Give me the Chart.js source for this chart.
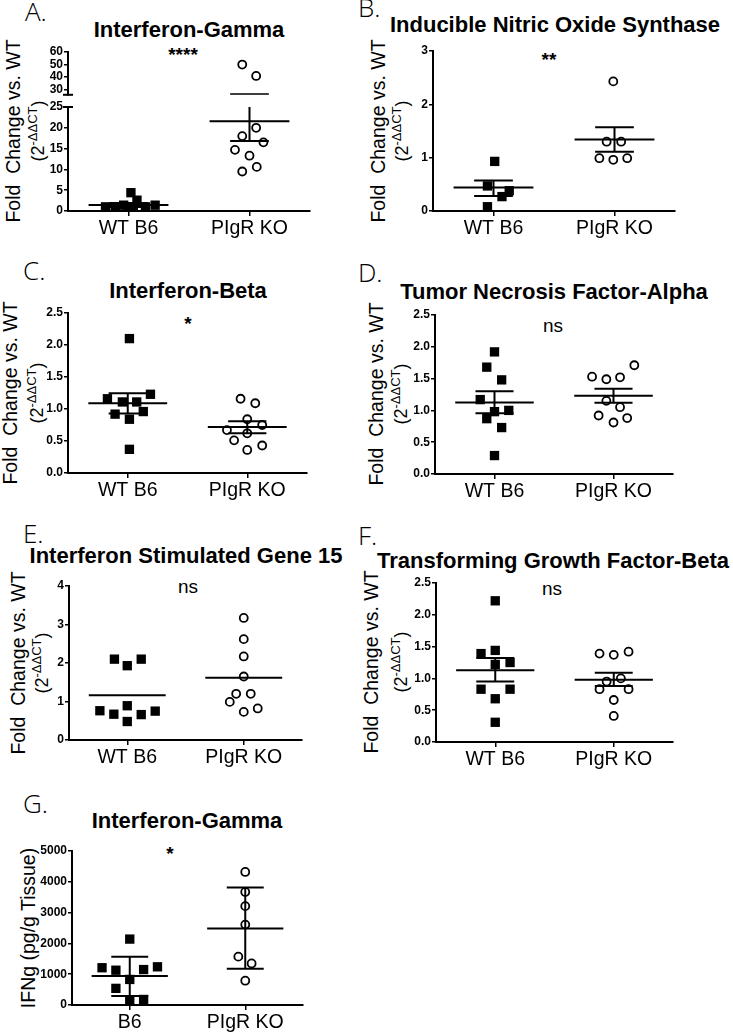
<!DOCTYPE html>
<html>
<head>
<meta charset="utf-8">
<script src="https://cdn.jsdelivr.net/npm/chart.js@4.4.1/dist/chart.umd.min.js"></script>
<style>
  body { margin: 0; background: #fff; width: 733px; height: 1033px; position: relative; overflow: hidden;
         font-family: "Liberation Sans", Arial, sans-serif; color: #000; }
  canvas { position: absolute; }
  .letra { position: absolute; font-family: "Open Sans", sans-serif; font-weight: 300; font-size: 26px; line-height: 1; }
  .titulo { position: absolute; font-weight: bold; font-size: 22px; line-height: 1; white-space: nowrap; transform: translateX(-50%); }
  .ytit { position: absolute; white-space: nowrap; line-height: 1; transform: translate(-50%, -50%) rotate(-90deg); }
  .ytit .sup { font-size: 13px; position: relative; top: -7px; }
  .sig { position: absolute; line-height: 1; white-space: nowrap; transform: translateX(-50%); }
  .ast { font-size: 19px; font-weight: bold; }
  .ns { font-size: 19px; }
</style>
</head>
<body>

<div class="letra" style="left:25px;top:-2px">A.</div>
<div class="titulo" style="left:189px;top:19px">Interferon-Gamma</div>
<div class="ytit" style="left:14px;top:131px;font-size:19.5px">Fold&nbsp; Change vs. WT</div>
<div class="ytit" style="left:38px;top:131px;font-size:18px">(2<span class="sup">-ΔΔCT</span>)</div>
<div class="sig ast" style="left:183px;top:45px">****</div>

<div class="letra" style="left:358px;top:-6px">B.</div>
<div class="titulo" style="left:555px;top:14px">Inducible Nitric Oxide Synthase</div>
<div class="ytit" style="left:379px;top:131px;font-size:19.5px">Fold&nbsp; Change vs. WT</div>
<div class="ytit" style="left:402px;top:131px;font-size:18px">(2<span class="sup">-ΔΔCT</span>)</div>
<div class="sig ast" style="left:549px;top:50px">**</div>

<div class="letra" style="left:23px;top:257px">C.</div>
<div class="titulo" style="left:188px;top:280px">Interferon-Beta</div>
<div class="ytit" style="left:11px;top:393px;font-size:19.5px">Fold&nbsp; Change vs. WT</div>
<div class="ytit" style="left:37px;top:393px;font-size:18px">(2<span class="sup">-ΔΔCT</span>)</div>
<div class="sig ast" style="left:188px;top:314px">*</div>

<div class="letra" style="left:358px;top:259px">D.</div>
<div class="titulo" style="left:554px;top:281px">Tumor Necrosis Factor-Alpha</div>
<div class="ytit" style="left:377px;top:394px;font-size:19.5px">Fold&nbsp; Change vs. WT</div>
<div class="ytit" style="left:401px;top:394px;font-size:18px">(2<span class="sup">-ΔΔCT</span>)</div>
<div class="sig ns" style="left:553px;top:316px">ns</div>

<div class="letra" style="left:23px;top:520px">E.</div>
<div class="titulo" style="left:186px;top:545px">Interferon Stimulated Gene 15</div>
<div class="ytit" style="left:19px;top:663px;font-size:19.5px">Fold&nbsp; Change vs. WT</div>
<div class="ytit" style="left:42px;top:663px;font-size:18px">(2<span class="sup">-ΔΔCT</span>)</div>
<div class="sig ns" style="left:188px;top:577px">ns</div>

<div class="letra" style="left:358px;top:522px">F.</div>
<div class="titulo" style="left:553px;top:550px">Transforming Growth Factor-Beta</div>
<div class="ytit" style="left:372px;top:662px;font-size:19.5px">Fold&nbsp; Change vs. WT</div>
<div class="ytit" style="left:401px;top:662px;font-size:18px">(2<span class="sup">-ΔΔCT</span>)</div>
<div class="sig ns" style="left:552px;top:579px">ns</div>

<div class="letra" style="left:23px;top:790px">G.</div>
<div class="titulo" style="left:187px;top:810px">Interferon-Gamma</div>
<div class="ytit" style="left:29px;top:928px;font-size:19.5px">IFNg (pg/g Tissue)</div>
<div class="sig ast" style="left:170px;top:844px">*</div>

<script>
// Grupos
const groups = ['WT B6', 'PIgR KO'];
const groupsG = ['B6', 'PIgR KO'];

// A. Interferon-Gamma (fold change)
const ifngWt = [1.0, 0.6, 1.4, 0.2, 4.4, 2.6, 0.4, 1.0, 1.4];
const ifngWtJitter = [-0.19, -0.11, -0.04, -0.01, 0.02, 0.07, 0.04, 0.14, 0.22];
const ifngKo = [50, 41, 20, 18, 16.5, 14.7, 13.3, 10.6, 9.5];
const ifngKoJitter = [-0.06, 0.055, 0.055, -0.06, 0.115, -0.12, 0, 0.06, -0.06];
const ifngMean = [1.44, 21.6];
const ifngLow = [0.98, 16.8];
const ifngHigh = [1.9, 26.5];
const ifngTicksLow = [0, 5, 10, 15, 20, 25];
const ifngTicksHigh = [30, 40, 50, 60];

// B. Inducible Nitric Oxide Synthase
const inosWt = [0.93, 0.47, 0.38, 0.27, 0.08];
const inosWtJitter = [0.01, -0.05, 0.13, 0.07, -0.05];
const inosKo = [2.43, 1.3, 1.3, 0.99, 0.96, 0.99];
const inosKoJitter = [-0.01, -0.065, 0.055, -0.125, -0.01, 0.105];
const inosMean = [0.44, 1.34];
const inosLow = [0.28, 1.11];
const inosHigh = [0.57, 1.57];
const inosTicks = [0, 1, 2, 3];

// C. Interferon-Beta
const ifnbWt = [2.1, 1.16, 1.11, 1.11, 1.23, 0.92, 0.84, 0.96, 0.37];
const ifnbWtJitter = [0.014, -0.17, -0.045, 0.075, 0.19, -0.106, 0.014, 0.13, 0.014];
const ifnbKo = [1.16, 1.09, 0.84, 0.75, 0.67, 0.62, 0.51, 0.43, 0.36];
const ifnbKoJitter = [-0.056, 0.067, 0, 0.125, -0.17, 0, -0.11, 0.125, 0];
const ifnbMean = [1.09, 0.72];
const ifnbLow = [0.93, 0.62];
const ifnbHigh = [1.245, 0.81];

// D. Tumor Necrosis Factor-Alpha
const tnfWt = [1.92, 1.68, 1.48, 1.17, 0.98, 1.0, 0.87, 0.73, 0.29];
const tnfWtJitter = [0, -0.065, 0.06, -0.12, 0, 0.12, -0.065, 0.06, 0];
const tnfKo = [1.53, 1.49, 1.52, 1.71, 1.15, 1.05, 0.92, 0.88, 0.81];
const tnfKoJitter = [-0.18, -0.06, 0.055, 0.175, -0.06, 0.055, -0.125, 0.115, 0];
const tnfMean = [1.125, 1.23];
const tnfLow = [0.955, 1.12];
const tnfHigh = [1.30, 1.34];

// E. Interferon Stimulated Gene 15 (solo media)
const isgWt = [2.1, 1.93, 2.1, 0.76, 0.67, 0.89, 0.48, 0.66, 0.75];
const isgWtJitter = [-0.11, 0, 0.12, -0.235, -0.115, 0, 0, 0.12, 0.24];
const isgKo = [3.17, 2.62, 2.17, 1.65, 1.2, 1.2, 0.99, 0.73, 0.82];
const isgKoJitter = [0, 0, 0, 0, -0.065, 0.06, -0.12, 0, 0.12];
const isgMean = [1.16, 1.62];
const isgTicks = [0, 1, 2, 3, 4];

// F. Transforming Growth Factor-Beta
const tgfWt = [2.22, 1.39, 1.44, 1.25, 1.22, 0.83, 0.83, 0.68, 0.31];
const tgfWtJitter = [0, -0.12, 0, 0.125, 0, -0.12, 0.125, 0, 0];
const tgfKo = [1.39, 1.37, 1.42, 0.95, 1.0, 0.83, 0.83, 0.66, 0.41];
const tgfKoJitter = [-0.12, 0, 0.125, -0.06, 0.06, -0.12, 0.125, 0, 0];
const tgfMean = [1.13, 0.98];
const tgfLow = [0.95, 0.88];
const tgfHigh = [1.32, 1.09];

const halfTicks = [0, 0.5, 1, 1.5, 2, 2.5];

// G. Interferon-Gamma (pg/g tissue)
const proteinWt = [2140, 1210, 1130, 1150, 1240, 830, 540, 140, 180];
const proteinWtJitter = [0, -0.24, -0.12, 0.12, 0.24, 0, -0.12, 0, 0.12];
const proteinKo = [4320, 3670, 3210, 2610, 1570, 1350, 790];
const proteinKoJitter = [0, 0, 0, 0, -0.06, 0.055, 0];
const proteinMean = [940, 2484];
const proteinLow = [292, 1177];
const proteinHigh = [1566, 3812];
const proteinTicks = [0, 1000, 2000, 3000, 4000, 5000];

const AXIS_W = 40, PAD_T = 10, PAD_R = 8, X_H = 34;

// Marca corta en el corte del eje (panel A)
const breakMark = {
    id: 'breakMark',
    afterDraw(chart, args, opts) {
        if (!opts.edge) return;
        const area = chart.chartArea;
        const y = opts.edge === 'top' ? area.top : area.bottom;
        const ctx = chart.ctx;
        ctx.save();
        ctx.strokeStyle = '#000';
        ctx.lineWidth = 2;
        ctx.beginPath();
        ctx.moveTo(area.left - 5, y);
        ctx.lineTo(area.left + 5, y);
        ctx.stroke();
        ctx.restore();
    }
};

function pointsOf(values, jitter, center) {
    return values.map((v, i) => ({ x: center + jitter[i], y: v }));
}

// Media + barras de error como segmentos separados por huecos
function meanLines(mean, low, high) {
    const pts = [];
    [0.5, 1.5].forEach((c, g) => {
        pts.push({ x: c - 0.33, y: mean[g] }, { x: c + 0.33, y: mean[g] }, { x: c, y: null });
        if (low && high) {
            pts.push({ x: c - 0.16, y: high[g] }, { x: c + 0.16, y: high[g] }, { x: c, y: null });
            pts.push({ x: c - 0.16, y: low[g] }, { x: c + 0.16, y: low[g] }, { x: c, y: null });
            pts.push({ x: c, y: low[g] }, { x: c, y: high[g] }, { x: c, y: null });
        }
    });
    return pts;
}

function buildPanel(p) {
    const showX = p.showX !== false;
    const bottomPad = showX ? 0 : 8;
    const canvas = document.createElement('canvas');
    canvas.width = p.box.r - p.box.l + AXIS_W + PAD_R;
    canvas.height = p.box.b - p.box.t + PAD_T + (showX ? X_H : bottomPad);
    canvas.style.left = (p.box.l - AXIS_W) + 'px';
    canvas.style.top = (p.box.t - PAD_T) + 'px';
    document.body.appendChild(canvas);

    const datasets = [
        { data: meanLines(p.mean, p.low, p.high), showLine: true, borderColor: '#000', borderWidth: 2,
          pointRadius: 0, order: 0 },
        { data: pointsOf(p.wt, p.wtJitter, 0.5), pointStyle: 'rect', pointRadius: 6.6,
          backgroundColor: '#000', borderColor: '#000', borderWidth: 0, order: 1 },
        { data: pointsOf(p.ko, p.koJitter, 1.5), pointStyle: 'circle', pointRadius: 4,
          backgroundColor: '#fff', borderColor: '#000', borderWidth: 1.8, order: 1 }
    ];
    if (p.clip !== undefined) datasets.forEach(d => { d.clip = p.clip; });

    new Chart(canvas.getContext('2d'), {
        type: 'scatter',
        data: { datasets },
        plugins: [breakMark],
        options: {
            responsive: false,
            animation: false,
            events: [],
            layout: { padding: { top: PAD_T, right: PAD_R, left: 0, bottom: bottomPad } },
            plugins: {
                legend: { display: false },
                tooltip: { enabled: false },
                breakMark: { edge: p.breakEdge || null }
            },
            scales: {
                x: {
                    type: 'linear', min: 0, max: 2, display: showX,
                    afterFit: s => { if (showX) s.height = X_H; },
                    afterBuildTicks: s => { s.ticks = [{ value: 0.5 }, { value: 1.5 }]; },
                    ticks: {
                        callback: (v, i) => p.labels[i], autoSkip: false, maxRotation: 0,
                        color: '#000', padding: 1,
                        font: { family: 'Liberation Sans', size: 19.5 }
                    },
                    grid: { drawOnChartArea: false, drawTicks: true, tickLength: 5, color: '#000', lineWidth: 1.5 },
                    border: { color: '#000', width: 2, dash: p.dashX ? [2, 2] : [] }
                },
                y: {
                    min: p.yMin, max: p.yMax,
                    afterFit: s => { s.width = AXIS_W; },
                    afterBuildTicks: s => { s.ticks = p.yTicks.map(v => ({ value: v })); },
                    ticks: {
                        callback: v => p.decimals ? v.toFixed(p.decimals) : String(v),
                        autoSkip: false, color: '#000', padding: 1,
                        font: { family: 'Liberation Sans', weight: 'bold', size: 12 }
                    },
                    grid: { drawOnChartArea: false, drawTicks: true, tickLength: 4, color: '#000', lineWidth: 1.5 },
                    border: { color: '#000', width: 2 }
                }
            }
        }
    });
}

try {
    const ifng = { wt: ifngWt, wtJitter: ifngWtJitter, ko: ifngKo, koJitter: ifngKoJitter,
                   mean: ifngMean, low: ifngLow, high: ifngHigh, labels: groups };
    buildPanel(Object.assign({ box: { l: 68, t: 52, r: 310, b: 95 }, yMin: 26, yMax: 60,
        yTicks: ifngTicksHigh, showX: false, breakEdge: 'bottom', clip: 0 }, ifng));
    buildPanel(Object.assign({ box: { l: 68, t: 107, r: 310, b: 211 }, yMin: 0, yMax: 25,
        yTicks: ifngTicksLow, dashX: true, breakEdge: 'top' }, ifng));

    buildPanel({ box: { l: 433, t: 51, r: 675, b: 211 }, yMin: 0, yMax: 3, yTicks: inosTicks,
        wt: inosWt, wtJitter: inosWtJitter, ko: inosKo, koJitter: inosKoJitter,
        mean: inosMean, low: inosLow, high: inosHigh, labels: groups });

    buildPanel({ box: { l: 68, t: 313, r: 307, b: 473 }, yMin: 0, yMax: 2.5, yTicks: halfTicks, decimals: 1,
        wt: ifnbWt, wtJitter: ifnbWtJitter, ko: ifnbKo, koJitter: ifnbKoJitter,
        mean: ifnbMean, low: ifnbLow, high: ifnbHigh, labels: groups });

    buildPanel({ box: { l: 435, t: 315, r: 673, b: 474 }, yMin: 0, yMax: 2.5, yTicks: halfTicks, decimals: 1,
        wt: tnfWt, wtJitter: tnfWtJitter, ko: tnfKo, koJitter: tnfKoJitter,
        mean: tnfMean, low: tnfLow, high: tnfHigh, labels: groups });

    buildPanel({ box: { l: 69, t: 586, r: 302, b: 740 }, yMin: 0, yMax: 4, yTicks: isgTicks,
        wt: isgWt, wtJitter: isgWtJitter, ko: isgKo, koJitter: isgKoJitter,
        mean: isgMean, labels: groups });

    buildPanel({ box: { l: 436, t: 583, r: 673, b: 742 }, yMin: 0, yMax: 2.5, yTicks: halfTicks, decimals: 1,
        wt: tgfWt, wtJitter: tgfWtJitter, ko: tgfKo, koJitter: tgfKoJitter,
        mean: tgfMean, low: tgfLow, high: tgfHigh, labels: groups });

    buildPanel({ box: { l: 72, t: 851, r: 303, b: 1005 }, yMin: 0, yMax: 5000, yTicks: proteinTicks,
        wt: proteinWt, wtJitter: proteinWtJitter, ko: proteinKo, koJitter: proteinKoJitter,
        mean: proteinMean, low: proteinLow, high: proteinHigh, labels: groupsG });
} catch (error) {
    console.error('Error al dibujar los paneles:', error);
}
</script>
</body>
</html>
